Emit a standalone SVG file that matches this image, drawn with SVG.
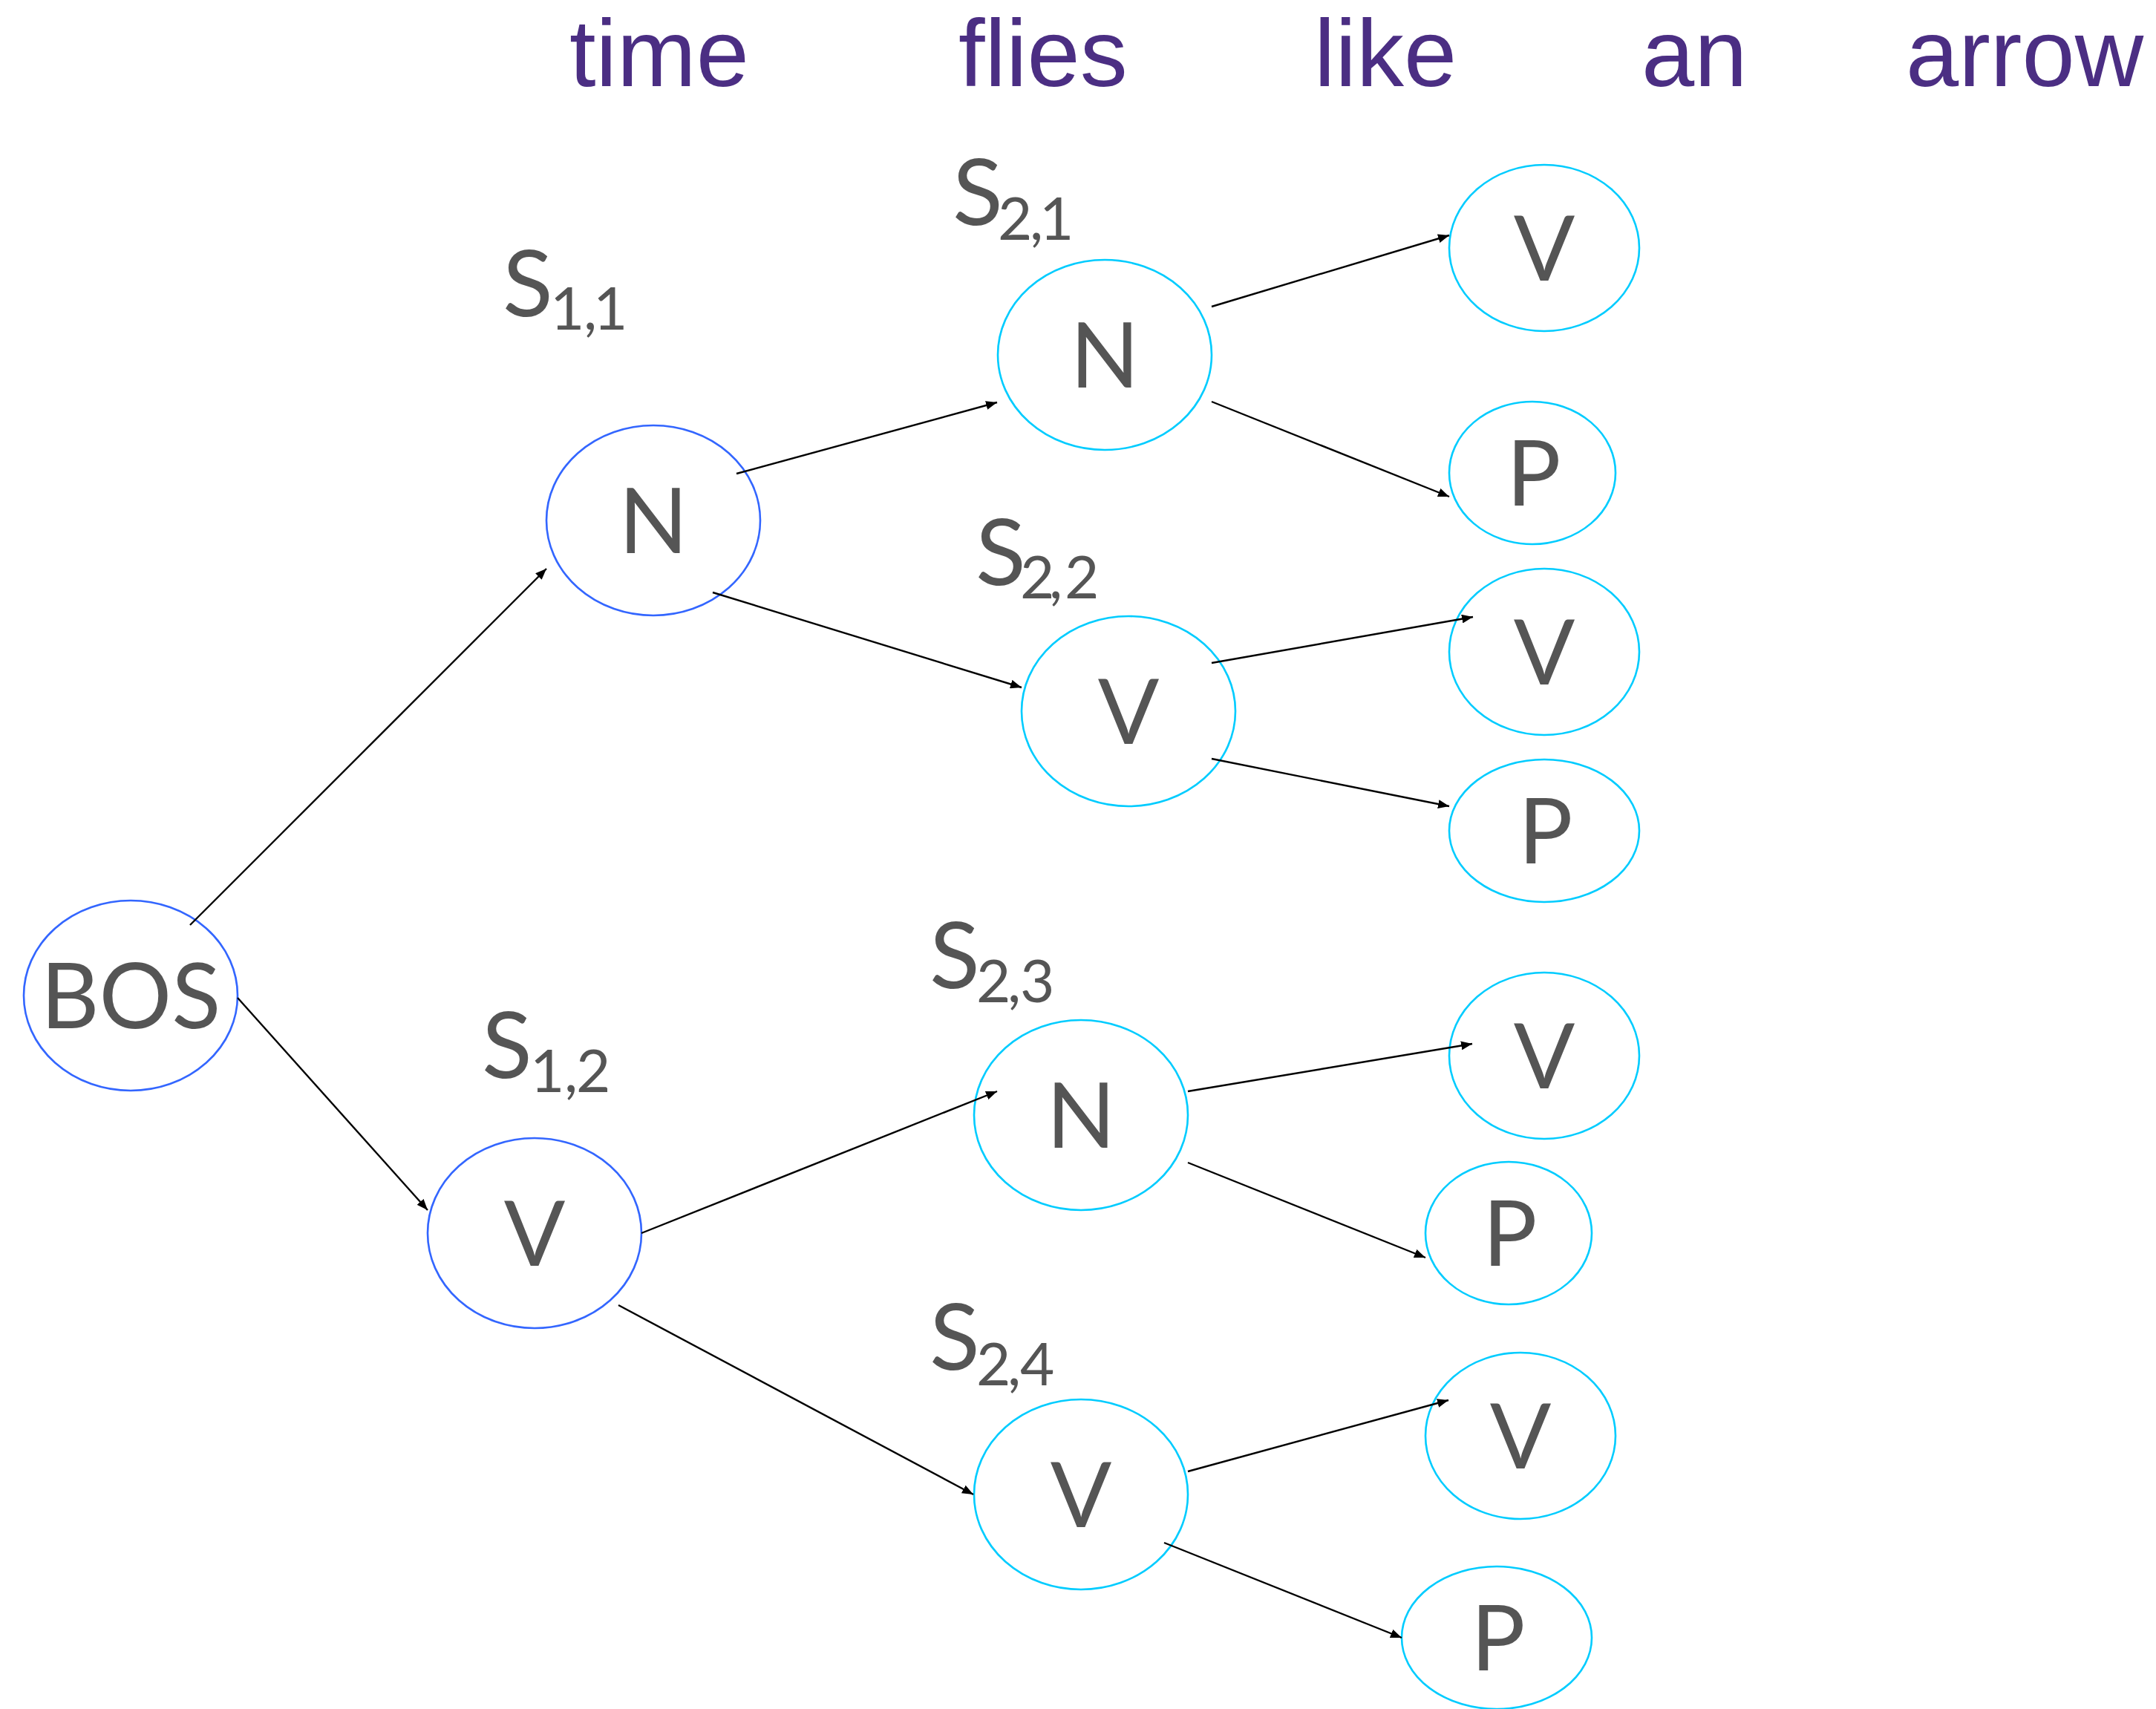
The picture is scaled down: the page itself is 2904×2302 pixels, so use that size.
<svg xmlns="http://www.w3.org/2000/svg" width="2904" height="2302" viewBox="0 0 2904 2302">
  <style>
    .word { font-family: "Liberation Sans", Arial, sans-serif; font-size: 128px; fill: #4B2E83; }
    .tag { font-family: Lato, "Noto Sans", sans-serif; font-size: 122px; fill: #555555; text-anchor: middle; }
    .s { font-family: Lato, "Noto Sans", sans-serif; font-size: 125px; fill: #555555; }
    .sub { font-family: Lato, "Noto Sans", sans-serif; font-size: 80px; fill: #555555; }
    .lvl1 { fill: #FFFFFF; stroke: #3366FF; stroke-width: 2.6; }
    .lvl2 { fill: #FFFFFF; stroke: #00CCFF; stroke-width: 2.6; }
    .edge { stroke: #000000; stroke-width: 2.4; fill: none; marker-end: url(#head); }
  </style>
  <defs>
    <marker id="head" markerUnits="userSpaceOnUse" markerWidth="16" markerHeight="12" refX="15" refY="6" orient="auto">
      <path d="M0,0 L15,6 L0,12 z" fill="#000000"/>
    </marker>
  </defs>
  <rect width="2904" height="2302" fill="#FFFFFF"/>

  <!-- sentence -->
  <g id="sentence">
    <text class="word" x="767" y="116">time</text>
    <text class="word" x="1291" y="116">flies</text>
    <text class="word" x="1770" y="116">like</text>
    <text class="word" x="2211" y="116">an</text>
    <text class="word" x="2567" y="116">arrow</text>
  </g>

  <!-- state labels: S with a two-index subscript -->
  <g id="state-labels">
    <g id="label-s11"><text class="s" x="677" y="426">S</text><text class="sub" x="741 786 799" y="444">1,1</text></g>
    <g id="label-s12"><text class="s" x="649" y="1452">S</text><text class="sub" x="714 760 776" y="1471">1,2</text></g>
    <g id="label-s21"><text class="s" x="1283" y="303">S</text><text class="sub" x="1344 1387 1400" y="323">2,1</text></g>
    <g id="label-s22"><text class="s" x="1314" y="788">S</text><text class="sub" x="1374 1413 1434" y="806">2,2</text></g>
    <g id="label-s23"><text class="s" x="1252" y="1331">S</text><text class="sub" x="1315 1357 1374" y="1350">2,3</text></g>
    <g id="label-s24"><text class="s" x="1252" y="1845">S</text><text class="sub" x="1315 1357 1374" y="1866">2,4</text></g>
  </g>

  <!-- nodes -->
  <g id="bos"><ellipse class="lvl1" cx="176" cy="1341" rx="144" ry="128"/><text class="tag" x="176" y="1385">BOS</text></g>
  <g id="s11"><ellipse class="lvl1" cx="880" cy="701" rx="144" ry="128"/><text class="tag" x="880" y="745">N</text></g>
  <g id="s12"><ellipse class="lvl1" cx="720" cy="1661" rx="144" ry="128"/><text class="tag" x="720" y="1705">V</text></g>
  <g id="s21"><ellipse class="lvl2" cx="1488" cy="478" rx="144" ry="128"/><text class="tag" x="1488" y="522">N</text></g>
  <g id="s22"><ellipse class="lvl2" cx="1520" cy="958" rx="144" ry="128"/><text class="tag" x="1520" y="1002">V</text></g>
  <g id="s23"><ellipse class="lvl2" cx="1456" cy="1502" rx="144" ry="128"/><text class="tag" x="1456" y="1546">N</text></g>
  <g id="s24"><ellipse class="lvl2" cx="1456" cy="2013" rx="144" ry="128"/><text class="tag" x="1456" y="2057">V</text></g>

  <g id="s21-v"><ellipse class="lvl2" cx="2080" cy="334" rx="128" ry="112"/><text class="tag" x="2080" y="378">V</text></g>
  <g id="s21-p"><ellipse class="lvl2" cx="2064" cy="637" rx="112" ry="96"/><text class="tag" x="2066" y="681">P</text></g>
  <g id="s22-v"><ellipse class="lvl2" cx="2080" cy="878" rx="128" ry="112"/><text class="tag" x="2080" y="922">V</text></g>
  <g id="s22-p"><ellipse class="lvl2" cx="2080" cy="1119" rx="128" ry="96"/><text class="tag" x="2082" y="1163">P</text></g>
  <g id="s23-v"><ellipse class="lvl2" cx="2080" cy="1422" rx="128" ry="112"/><text class="tag" x="2080" y="1466">V</text></g>
  <g id="s23-p"><ellipse class="lvl2" cx="2032" cy="1661" rx="112" ry="96"/><text class="tag" x="2034" y="1705">P</text></g>
  <g id="s24-v"><ellipse class="lvl2" cx="2048" cy="1934" rx="128" ry="112"/><text class="tag" x="2048" y="1978">V</text></g>
  <g id="s24-p"><ellipse class="lvl2" cx="2016" cy="2206" rx="128" ry="96"/><text class="tag" x="2018" y="2250">P</text></g>

  <!-- connectors, drawn over the node outlines -->
  <g id="connectors">
    <line class="edge" x1="256" y1="1246" x2="736" y2="766"/>
    <line class="edge" x1="320" y1="1344" x2="576" y2="1630"/>
    <line class="edge" x1="992" y1="638" x2="1343" y2="542"/>
    <line class="edge" x1="960" y1="798" x2="1376" y2="926"/>
    <line class="edge" x1="1632" y1="413" x2="1952" y2="317"/>
    <line class="edge" x1="1632" y1="541" x2="1952" y2="669"/>
    <line class="edge" x1="1632" y1="893" x2="1984" y2="831"/>
    <line class="edge" x1="1632" y1="1022" x2="1952" y2="1086"/>
    <line class="edge" x1="864" y1="1661" x2="1343" y2="1470"/>
    <line class="edge" x1="833" y1="1758" x2="1311" y2="2013"/>
    <line class="edge" x1="1600" y1="1470" x2="1983" y2="1406"/>
    <line class="edge" x1="1600" y1="1566" x2="1920" y2="1694"/>
    <line class="edge" x1="1600" y1="1982" x2="1951" y2="1886"/>
    <line class="edge" x1="1568" y1="2078" x2="1888" y2="2206"/>
  </g>
</svg>
